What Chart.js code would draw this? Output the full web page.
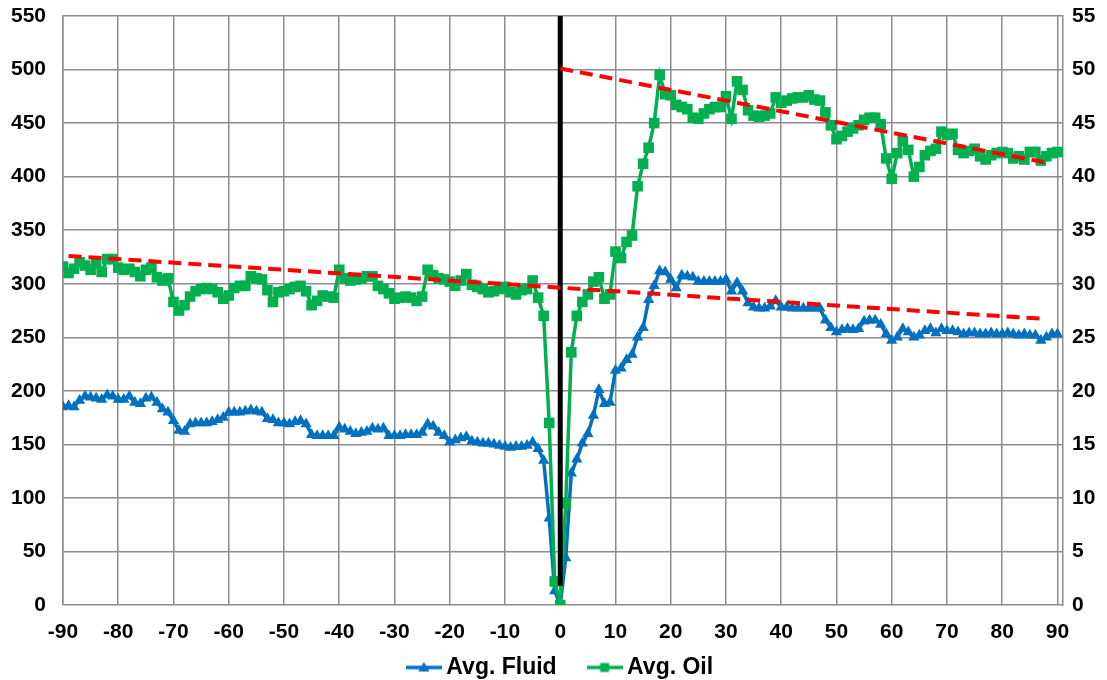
<!DOCTYPE html>
<html>
<head>
<meta charset="utf-8">
<title>Avg. Fluid / Avg. Oil</title>
<script src="https://cdn.jsdelivr.net/npm/chart.js@4.4.1/dist/chart.umd.min.js"></script>
<style>
    html, body { margin: 0; padding: 0; background: #ffffff; }
    #wrap { width: 1107px; height: 680px; position: relative; }
</style>
</head>
<body>
<div id="wrap"><canvas id="prodChart" width="1107" height="680"></canvas></div>
<script>
// days run from -90 to 90, one value per day
var FIRST_DAY = -90;

// Avg. Fluid (left axis)
var fluidValues = [
    185, 186, 185, 191, 195, 194, 193, 192, 196, 195,
    192, 192, 195, 189, 188, 193, 194, 189, 183, 180,
    172, 163, 162, 169, 170, 170, 170, 171, 173, 175,
    180, 180, 180, 181, 182, 181, 180, 174, 173, 170,
    170, 169, 171, 172, 169, 159, 158, 158, 158, 158,
    166, 164,
    162, 160, 161, 162, 165, 164, 165, 158, 158, 158,
    159, 159, 159, 161, 169, 167, 161, 158, 152, 154,
    156, 157, 153, 152, 151, 151, 150, 149, 148, 147,
    148, 148, 149, 152, 146, 135, 81, 13, 0,
    44, 123, 136, 151, 160, 177, 201, 188, 189, 219,
    221, 229, 234, 250, 259, 285, 298, 312, 311, 304,
    296, 308, 307, 306, 302, 302, 302, 302, 302, 304,
    293, 301, 293, 282, 278, 277, 277, 279, 284, 278,
    278, 277, 277, 277, 277, 277, 277, 266, 259, 255,
    257, 258, 257, 258, 265, 266, 266, 262, 253, 247,
    250, 258, 255, 250, 252, 256, 258, 254, 258, 256,
    256, 255, 253, 254, 254, 253, 253, 254, 253, 253,
    254, 253, 252, 253, 252, 252, 247, 250, 253, 253
];

// Avg. Oil (right axis)
var oilValues = [
    31.6, 31.0, 31.4, 32.0, 31.7, 31.3, 31.9, 31.1, 32.3, 32.3,
    31.5, 31.3, 31.4, 31.1, 30.7, 31.3, 31.5, 30.6, 30.3, 30.5,
    28.3, 27.5, 28.0, 28.8, 29.3, 29.5, 29.6, 29.5, 29.2, 28.6,
    28.9, 29.6, 29.8, 29.8, 30.7, 30.5, 30.4, 29.4, 28.3, 29.2,
    29.3, 29.5, 29.7, 29.8, 29.3, 28.0, 28.4, 28.9, 28.8, 28.7,
    31.3, 30.5,
    30.3, 30.4, 30.5, 30.7, 30.7, 29.8, 29.5, 29.1, 28.6, 28.7,
    28.8, 28.7, 28.4, 28.8, 31.3, 30.8, 30.5, 30.4, 30.2, 29.8,
    30.3, 30.9, 29.9, 29.7, 29.5, 29.2, 29.3, 29.5, 29.7, 29.2,
    29.0, 29.4, 29.5, 30.3, 28.7, 27.0, 17.0, 2.2, 0,
    9.5, 23.6, 27.0, 28.3, 29.0, 30.2, 30.6, 28.6, 29.0, 33.0,
    32.4, 33.9, 34.5, 39.1, 41.2, 42.7, 45.0, 49.5, 47.7, 47.6,
    46.7, 46.5, 46.3, 45.5, 45.4, 45.9, 46.3, 46.5, 46.5, 47.5,
    45.4, 48.9, 48.1, 46.2, 45.7, 45.6, 45.7, 45.9, 47.4, 46.9,
    47.1, 47.3, 47.4, 47.4, 47.6, 47.2, 47.1, 46.0, 44.8, 43.5,
    43.8, 44.2, 44.5, 44.8, 45.3, 45.5, 45.5, 44.9, 41.7, 39.8,
    42.2, 43.3, 42.5, 40.0, 40.9, 42.0, 42.4, 42.6, 44.2, 43.9,
    44.0, 42.5, 42.2, 42.4, 42.6, 41.9, 41.6, 42.0, 42.2, 42.3,
    42.2, 41.7, 41.9, 41.6, 42.3, 42.3, 41.5, 41.9, 42.2, 42.3
];

// oil trend lines (right axis): before and after day 0
var trendBeforeDays = [-89, 88];
var trendBeforeOil = [32.6, 26.7];
var trendAfterDays = [0, 88];
var trendAfterOil = [50.1, 41.3];

// day-0 marker (left axis)
var markerDays = [0, 0];
var markerFluid = [18, 550];

// axis ticks
var xTickStep = 10;
var fluidTickStep = 50;
var oilTickStep = 5;

var BLUE = '#0070c0';
var GREEN = '#00b050';
var RED = '#ff0000';
var GRID = '#8c8c8c';
var FONT = "'Liberation Sans', Arial, sans-serif";

function toPoints(xs, ys) {
    return ys.map(function (v, i) { return { x: xs[i], y: v }; });
}

function dailyPoints(values) {
    return values.map(function (v, i) { return { x: FIRST_DAY + i, y: v }; });
}

// small line + marker picture for the legend
function legendIcon(color, style) {
    var c = document.createElement('canvas');
    c.width = 36;
    c.height = 14;
    var g = c.getContext('2d');
    g.strokeStyle = color;
    g.fillStyle = color;
    g.lineWidth = 3.5;
    g.beginPath();
    g.moveTo(0, 7);
    g.lineTo(36, 7);
    g.stroke();
    g.beginPath();
    if (style === 'triangle') {
        g.moveTo(18, 1.5);
        g.lineTo(23.5, 11);
        g.lineTo(12.5, 11);
        g.closePath();
    } else {
        g.rect(13.5, 2.5, 9, 9);
    }
    g.fill();
    return c;
}

var fluidIcon = legendIcon(BLUE, 'triangle');
var oilIcon = legendIcon(GREEN, 'rect');

// keep the plot box where the picture has it, labels may overhang
function fixVertical(width) {
    return function (s) {
        s.width = width;
        s.paddingTop = 0;
        s.paddingBottom = 0;
    };
}

var ctx = document.getElementById('prodChart');

new Chart(ctx, {
    type: 'line',
    data: {
        datasets: [
            {
                label: 'trend before',
                data: toPoints(trendBeforeDays, trendBeforeOil),
                yAxisID: 'y2',
                borderColor: RED,
                borderWidth: 4,
                borderDash: [13, 7],
                pointRadius: 0,
                fill: false,
            },
            {
                label: 'trend after',
                data: toPoints(trendAfterDays, trendAfterOil),
                yAxisID: 'y2',
                borderColor: RED,
                borderWidth: 4,
                borderDash: [13, 7],
                pointRadius: 0,
                fill: false,
            },
            {
                label: 'day 0',
                data: toPoints(markerDays, markerFluid),
                yAxisID: 'y',
                borderColor: '#000000',
                borderWidth: 5,
                pointRadius: 0,
                fill: false,
            },
            {
                label: 'Avg. Oil',
                data: dailyPoints(oilValues),
                yAxisID: 'y2',
                borderColor: GREEN,
                backgroundColor: GREEN,
                borderWidth: 3.5,
                pointStyle: 'rect',
                pointRadius: 7.5,
                pointBorderWidth: 0,
                tension: 0,
                fill: false,
            },
            {
                label: 'Avg. Fluid',
                data: dailyPoints(fluidValues),
                yAxisID: 'y',
                borderColor: BLUE,
                backgroundColor: BLUE,
                borderWidth: 3.5,
                pointStyle: 'triangle',
                pointRadius: 6.5,
                pointBorderWidth: 0,
                tension: 0,
                fill: false,
            },
        ],
    },
    options: {
        responsive: false,
        animation: false,
        layout: { autoPadding: false, padding: { top: 16, left: 0, right: 0, bottom: -9 } },
        plugins: {
            tooltip: { enabled: false },
            legend: {
                position: 'bottom',
                fullSize: false,
                labels: {
                    usePointStyle: true,
                    pointStyleWidth: 22,
                    padding: 5,
                    color: '#000000',
                    font: { family: FONT, size: 23, weight: 'bold' },
                    generateLabels: function () {
                        // trailing spaces keep the gap between the two entries
                        return [
                            { text: 'Avg. Fluid     ', pointStyle: fluidIcon, fontColor: '#000000', datasetIndex: 4, lineWidth: 0 },
                            { text: 'Avg. Oil', pointStyle: oilIcon, fontColor: '#000000', datasetIndex: 3, lineWidth: 0 },
                        ];
                    },
                },
            },
        },
        scales: {
            x: {
                type: 'linear',
                min: -90,
                max: 91,
                afterFit: function (s) { s.height = 46; },
                grid: { color: GRID, lineWidth: 1.5, drawTicks: false },
                border: { display: false },
                ticks: {
                    stepSize: xTickStep,
                    includeBounds: false,
                    padding: 15,
                    color: '#000000',
                    font: { family: FONT, size: 21, weight: 'bold' },
                },
            },
            y: {
                position: 'left',
                min: 0,
                max: 550,
                afterFit: fixVertical(63),
                grid: { color: GRID, lineWidth: 1.5, drawTicks: false },
                border: { display: true, color: GRID, width: 1.5 },
                ticks: {
                    stepSize: fluidTickStep,
                    padding: 17,
                    color: '#000000',
                    font: { family: FONT, size: 21, weight: 'bold' },
                },
            },
            y2: {
                position: 'right',
                min: 0,
                max: 55,
                afterFit: fixVertical(44),
                grid: { display: false, drawTicks: false },
                border: { display: true, color: GRID, width: 1.5 },
                ticks: {
                    stepSize: oilTickStep,
                    padding: 9,
                    color: '#000000',
                    font: { family: FONT, size: 21, weight: 'bold' },
                },
            },
        },
    },
});
</script>
</body>
</html>
